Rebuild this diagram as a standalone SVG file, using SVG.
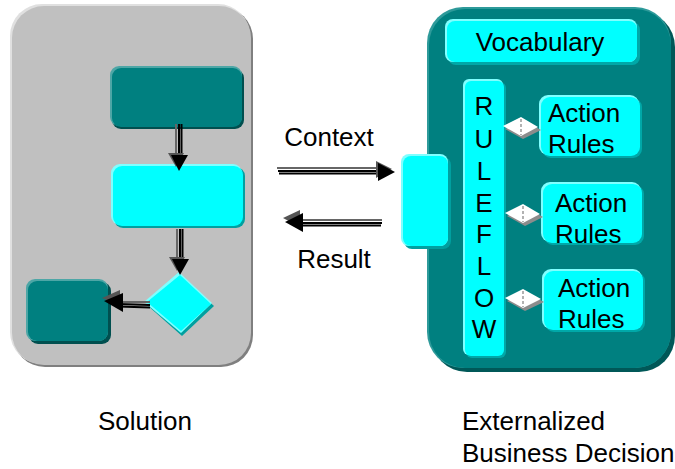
<svg xmlns="http://www.w3.org/2000/svg" width="675" height="469" viewBox="0 0 675 469">
<style>
text{font-family:"Liberation Sans",Arial,sans-serif;font-size:26px;fill:#000}
.gray{fill:#C0C0C0}.grayH{fill:#E0E0E0}.grayS{fill:#7F7F7F}
.teal{fill:#008080}.tealH{fill:#4DA6A6}.tealS{fill:#004F4F}
.cyan{fill:#00FFFF}.cyanH{fill:#80FFFF}.cyanS{fill:#00A0A0}
.blk{stroke:#000;stroke-width:2;fill:none}
.gl{stroke:#666;stroke-width:2;fill:none}
.lg{stroke:#999;stroke-width:1.5;fill:none}
</style>
<rect width="675" height="469" fill="#fff"/>
<g id="solution-panel">
<rect x="13" y="7" width="240" height="360" rx="32" class="grayS"/>
<rect x="10" y="4" width="240" height="360" rx="32" class="grayH"/>
<rect x="12" y="6" width="239" height="359" rx="32" class="gray"/>
</g>
<g id="step1">
<rect x="112" y="69" width="132" height="60" rx="9" class="tealS"/>
<rect x="110" y="66" width="132" height="60" rx="9" class="tealH"/>
<rect x="112" y="68" width="130" height="59" rx="9" class="teal"/>
</g>
<g id="step2">
<rect x="114" y="167" width="131" height="61" rx="9" class="cyanS"/>
<rect x="111" y="164" width="131" height="61" rx="9" class="cyanH"/>
<rect x="113" y="166" width="130" height="60" rx="9" class="cyan"/>
</g>
<g id="decision">
<polygon points="181,276 214,306 182,336 147,305" class="cyanS"/>
<polygon points="179,272 212,303 181,333 144,302" class="cyanH"/>
<polygon points="180,275 211,304 181,331 147,302" class="cyan"/>
</g>
<g id="step3">
<rect x="29" y="282" width="82" height="62" rx="9" class="tealS"/>
<rect x="26" y="279" width="82" height="62" rx="9" class="tealH"/>
<rect x="28" y="281" width="80" height="60" rx="9" class="teal"/>
</g>
<g id="decision-panel">
<rect x="431" y="11" width="244" height="361" rx="36" fill="#005858"/>
<rect x="427" y="7" width="244" height="361" rx="36" fill="#2E9A9A"/>
<rect x="429" y="9" width="242" height="359" rx="36" class="teal"/>
</g>
<g id="vocabulary">
<rect x="448" y="22" width="192" height="43" rx="8" fill="#00A8A8"/>
<rect x="445" y="19" width="192" height="43" rx="8" class="cyanH"/>
<rect x="447" y="21" width="190" height="41" rx="8" class="cyan"/>
<text x="540" y="51" text-anchor="middle">Vocabulary</text>
</g>
<g id="interface">
<rect x="404" y="157" width="47" height="92" rx="8" class="cyanS"/>
<rect x="401" y="154" width="47" height="92" rx="8" class="cyanH"/>
<rect x="403" y="156" width="45" height="90" rx="8" class="cyan"/>
</g>
<g id="ruleflow">
<rect x="466" y="82" width="40" height="276" rx="6" fill="#00A8A8"/>
<rect x="463" y="79" width="40" height="276" rx="6" class="cyanH"/>
<rect x="465" y="81" width="39" height="275" rx="6" class="cyan"/>
<g text-anchor="middle">
<text x="484" y="115">R</text>
<text x="484" y="148">U</text>
<text x="484" y="180">L</text>
<text x="484" y="212">E</text>
<text x="484" y="243">F</text>
<text x="484" y="275">L</text>
<text x="484" y="307">O</text>
<text x="484" y="338">W</text>
</g>
</g>
<g id="action1">
<rect x="542" y="98" width="100" height="60" rx="9" fill="#00A8A8"/>
<rect x="539" y="95" width="100" height="60" rx="9" class="cyanH"/>
<rect x="541" y="97" width="99" height="59" rx="9" class="cyan"/>
<text x="548" y="122">Action</text>
<text x="548" y="153">Rules</text>
</g>
<g id="action2">
<rect x="544" y="185" width="100" height="60" rx="9" fill="#00A8A8"/>
<rect x="541" y="182" width="100" height="60" rx="9" class="cyanH"/>
<rect x="543" y="184" width="99" height="59" rx="9" class="cyan"/>
<text x="555" y="212">Action</text>
<text x="555" y="243">Rules</text>
</g>
<g id="action3">
<rect x="545" y="272" width="100" height="60" rx="9" fill="#00A8A8"/>
<rect x="542" y="269" width="100" height="60" rx="9" class="cyanH"/>
<rect x="544" y="271" width="99" height="59" rx="9" class="cyan"/>
<text x="558" y="297">Action</text>
<text x="558" y="328">Rules</text>
</g>
<g id="connectors">
<g id="c1">
<line x1="176" y1="124" x2="176" y2="158" class="gl"/>
<line x1="179" y1="124" x2="179" y2="158" class="blk"/>
<line x1="181.5" y1="124" x2="181.5" y2="158" class="blk"/>
<polygon points="168,153 184,153 176,167" fill="#555"/>
<polygon points="171,155 188,155 179,171" fill="#000"/>
</g>
<g id="c2">
<line x1="177" y1="229" x2="177" y2="262" class="gl"/>
<line x1="180" y1="229" x2="180" y2="262" class="blk"/>
<line x1="182.5" y1="229" x2="182.5" y2="262" class="blk"/>
<polygon points="169,257 185,257 177,271" fill="#555"/>
<polygon points="172,259 189,259 180,275" fill="#000"/>
</g>
<g id="c3">
<line x1="150" y1="302" x2="118" y2="302" class="gl"/>
<line x1="150" y1="305" x2="118" y2="304" class="blk"/>
<line x1="150" y1="307.5" x2="118" y2="306.5" class="blk"/>
<polygon points="120,290 120,306 102,298" fill="#555"/>
<polygon points="123,293 123,312 104,301" fill="#000"/>
</g>
<g id="context-arrow">
<line x1="277" y1="168" x2="380" y2="168" class="gl"/>
<line x1="278" y1="171" x2="380" y2="171" class="blk"/>
<line x1="279" y1="173.5" x2="380" y2="173.5" class="blk"/>
<polygon points="376,161 376,178 392,169" fill="#555"/>
<polygon points="378,163 378,181 395,172" fill="#000"/>
</g>
<g id="result-arrow">
<line x1="382" y1="220" x2="300" y2="220" class="gl"/>
<line x1="382" y1="223" x2="300" y2="223" class="blk"/>
<line x1="381" y1="225.5" x2="300" y2="225.5" class="blk"/>
<polygon points="300,210 300,227 283,218" fill="#555"/>
<polygon points="303,213 303,232 285,222" fill="#000"/>
</g>
<g id="r1">
<polygon points="505,129 523,120 541,130 523,139" fill="#8C8C8C"/>
<polygon points="503,126 521,117 538,127 521,136" fill="#fff"/>
<line x1="521" y1="119" x2="521" y2="135" class="lg" stroke-dasharray="3,2"/>
</g>
<g id="r2">
<polygon points="507,216 525,207 543,217 525,226" fill="#8C8C8C"/>
<polygon points="505,213 523,204 540,214 523,223" fill="#fff"/>
<line x1="523" y1="206" x2="523" y2="222" class="lg" stroke-dasharray="3,2"/>
</g>
<g id="r3">
<polygon points="507,301 525,292 544,302 525,311" fill="#8C8C8C"/>
<polygon points="505,298 523,289 541,299 523,308" fill="#fff"/>
<line x1="523" y1="291" x2="523" y2="307" class="lg" stroke-dasharray="3,2"/>
</g>
</g>
<text x="329" y="146" text-anchor="middle">Context</text>
<text x="334" y="268" text-anchor="middle">Result</text>
<text x="98" y="430">Solution</text>
<text x="462" y="430">Externalized</text>
<text x="462" y="462">Business Decision</text>
</svg>
